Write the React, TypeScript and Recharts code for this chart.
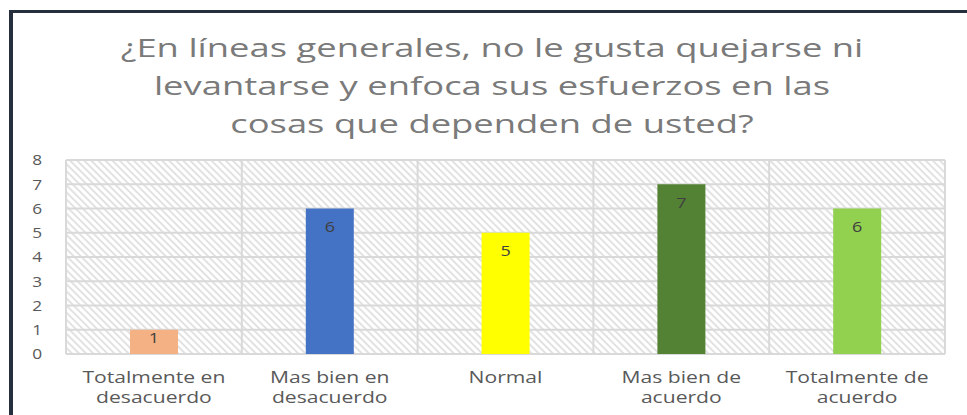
import React from "react";
import { BarChart, Bar, XAxis, YAxis, CartesianGrid, Cell, LabelList } from "recharts";

const titleLines = [
  "¿En líneas generales, no le gusta quejarse ni",
  "levantarse y enfoca sus esfuerzos en las",
  "cosas que dependen de usted?",
];
const categories = [
  "Totalmente en\ndesacuerdo",
  "Mas bien en\ndesacuerdo",
  "Normal",
  "Mas bien de\nacuerdo",
  "Totalmente de\nacuerdo",
];
const values = [1, 6, 5, 7, 6];
const barColors = ["#F4B183", "#4472C4", "#FFFF00", "#548235", "#92D050"];
const yTicks = [0, 1, 2, 3, 4, 5, 6, 7, 8];

const data = categories.map((c, i) => ({ name: c, value: values[i] }));

const FONT = "'Open Sans', sans-serif";
const SX = 1.32;

const XTick = (props: any) => {
  const { x, y, payload } = props;
  const lines = String(payload.value).split("\n");
  return (
    <g transform={`translate(${x},${y})`}>
      {lines.map((l, i) => (
        <text
          key={i}
          x={0}
          y={0}
          transform={`translate(0,${29 + i * 20}) scale(${SX},1)`}
          textAnchor="middle"
          fill="#595959"
          fontSize={16}
          fontFamily={FONT}
        >
          {l}
        </text>
      ))}
    </g>
  );
};

const YTick = (props: any) => {
  const { x, y, payload } = props;
  return (
    <text
      transform={`translate(${x},${y}) scale(1.15,1)`}
      textAnchor="end"
      dy="0.35em"
      fill="#595959"
      fontSize={15}
      fontFamily={FONT}
    >
      {payload.value}
    </text>
  );
};

const BarLabel = (props: any) => {
  const { x, y, width, height, value } = props;
  const cy = y + Math.min(18, height / 3);
  return (
    <text
      transform={`translate(${x + width / 2},${cy}) scale(1.2,1)`}
      textAnchor="middle"
      dy="0.35em"
      fill="#404040"
      fontSize={15}
      fontFamily={FONT}
    >
      {value}
    </text>
  );
};

export default function App() {
  return (
    <div
      style={{
        position: "absolute",
        left: 0,
        top: 0,
        width: 967,
        height: 415,
        overflow: "hidden",
        background: "#fff",
      }}
    >
      <div
        style={{
          position: "absolute",
          left: 9,
          top: 10,
          width: 1100,
          height: 600,
          borderLeft: "4px solid #262f3d",
          borderTop: "3px solid #262f3d",
        }}
      />
      <svg
        width={967}
        height={150}
        style={{ position: "absolute", left: 0, top: 0 }}
      >
        {titleLines.map((t, i) => (
          <text
            key={i}
            transform={`translate(492,${57 + i * 38}) scale(1.4,1)`}
            textAnchor="middle"
            fill="#7a7a7a"
            fontSize={26}
            fontFamily={FONT}
          >
            {t}
          </text>
        ))}
      </svg>
      <div style={{ position: "absolute", left: 0, top: 0 }}>
        <BarChart
          width={967}
          height={415}
          data={data}
          margin={{ top: 160, right: 22, bottom: 0, left: 0 }}
        >
          <defs>
            <pattern
              id="hatch"
              patternUnits="userSpaceOnUse"
              width={5}
              height={5}
              patternTransform="rotate(-45)"
            >
              <rect width={5} height={5} fill="#ffffff" />
              <line x1={1} y1={0} x2={1} y2={5} stroke="#e2e2e2" strokeWidth={2} />
            </pattern>
          </defs>
          <CartesianGrid
            fill="url(#hatch)"
            fillOpacity={1}
            stroke="#d9d9d9"
            strokeWidth={2}
            verticalCoordinatesGenerator={(p: any) =>
              [0, 1, 2, 3, 4, 5].map((i) => p.offset.left + (i * p.offset.width) / 5)
            }
          />
          <XAxis
            dataKey="name"
            height={61}
            axisLine={false}
            tickLine={false}
            tickSize={0}
            tickMargin={0}
            interval={0}
            tick={<XTick />}
          />
          <YAxis
            width={66}
            domain={[0, 8]}
            ticks={yTicks}
            interval={0}
            axisLine={false}
            tickLine={false}
            tickSize={0}
            tickMargin={24}
            tick={<YTick />}
          />
          <Bar dataKey="value" barSize={48} isAnimationActive={false}>
            {data.map((d, i) => (
              <Cell key={i} fill={barColors[i]} />
            ))}
            <LabelList dataKey="value" content={<BarLabel />} />
          </Bar>
        </BarChart>
      </div>
    </div>
  );
}
